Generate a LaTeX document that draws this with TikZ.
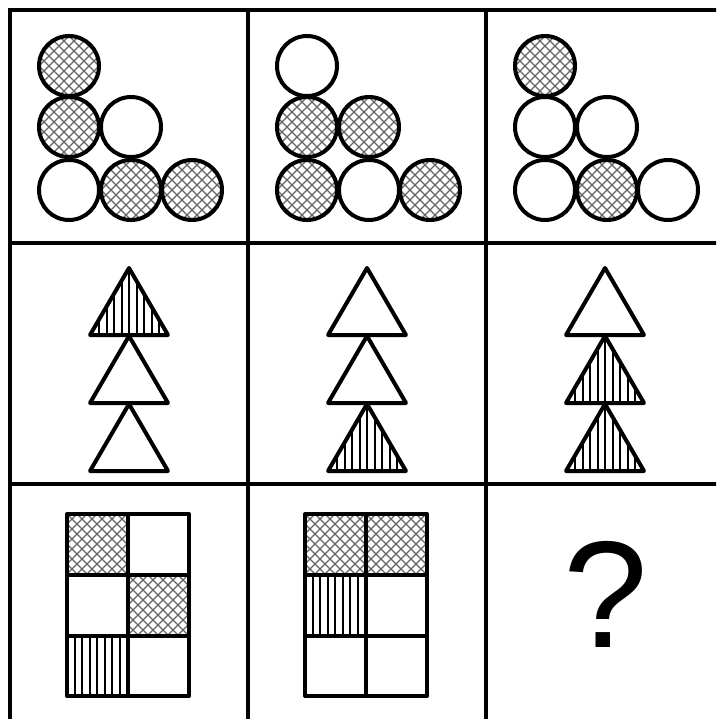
\documentclass[tikz,border=0pt]{standalone}
\usepackage{fontspec}
\setmainfont{Liberation Sans}
\begin{document}
\begin{tikzpicture}[x=1pt,y=-1pt,
  ol/.style={line width=4pt,line join=round},
  gridline/.style={line width=4pt},
  xhl/.style={line width=1.2pt,draw=black!60},
  vll/.style={line width=2pt,draw=black}]
\newcommand\XH{\foreach \s in {-170,-160,...,170}{\draw[xhl] (\s-100,-100) -- (\s+100,100) (\s-100,100) -- (\s+100,-100);}}
\newcommand\VL{\foreach \s in {-97.5,-90,...,98}{\draw[vll] (\s,-100) -- (\s,100);}}
\newcommand\WH{}
\newcommand\Circ[3]{\begin{scope}[shift={(#1,#2)}]\begin{scope}\clip (0,0) circle[radius=30];#3\end{scope}\draw[ol] (0,0) circle[radius=30];\end{scope}}
\newcommand\Tri[3]{\begin{scope}[shift={(#1,#2)}]\begin{scope}\clip (0,0) -- (39,67) -- (-39,67) -- cycle;#3\end{scope}\draw[ol] (0,0) -- (39,67) -- (-39,67) -- cycle;\end{scope}}
\newcommand\Cell[3]{\begin{scope}[shift={(#1,#2)}]\begin{scope}\clip (0,0) rectangle (61,61);#3\end{scope}\end{scope}}
\clip (0,0) rectangle (716,719);
\fill[white] (0,0) rectangle (716,719);
% grid
\draw[gridline] (10,730) -- (10,10) -- (730,10);
\foreach \gx in {248,486} \draw[gridline] (\gx,10) -- (\gx,730);
\foreach \gy in {243,484} \draw[gridline] (10,\gy) -- (730,\gy);
% circles
\foreach \dx/\a/\b/\c/\d/\e/\f in {0/\XH/\XH/\WH/\WH/\XH/\XH, 238/\WH/\XH/\XH/\XH/\WH/\XH, 476/\XH/\WH/\WH/\WH/\XH/\WH}{
  \begin{scope}[shift={(\dx,0)}]
    \Circ{69}{66}{\a}
    \Circ{69}{127}{\b}
    \Circ{131}{127}{\c}
    \Circ{69}{190}{\d}
    \Circ{131}{190}{\e}
    \Circ{192}{190}{\f}
  \end{scope}}
% triangles
\foreach \dx/\a/\b/\c in {0/\VL/\WH/\WH, 238/\WH/\WH/\VL, 476/\WH/\VL/\VL}{
  \begin{scope}[shift={(\dx,0)}]
    \Tri{129}{268}{\a}
    \Tri{129}{336}{\b}
    \Tri{129}{404}{\c}
  \end{scope}}
% rectangles
\begin{scope}[shift={(67,514)}]
  \Cell{0}{0}{\XH}
  \Cell{61}{61}{\XH}
  \Cell{0}{122}{\VL}
  \draw[ol] (0,0) rectangle (122,182);
  \draw[ol] (61,0) -- (61,182) (0,61) -- (122,61) (0,122) -- (122,122);
\end{scope}
\begin{scope}[shift={(305,514)}]
  \Cell{0}{0}{\XH}
  \Cell{61}{0}{\XH}
  \Cell{0}{61}{\VL}
  \draw[ol] (0,0) rectangle (122,182);
  \draw[ol] (61,0) -- (61,182) (0,61) -- (122,61) (0,122) -- (122,122);
\end{scope}
% question mark
\node[anchor=base,inner sep=0pt,font=\fontsize{152}{152}\selectfont] (q) at (606,647) {?};
\end{tikzpicture}
\end{document}
